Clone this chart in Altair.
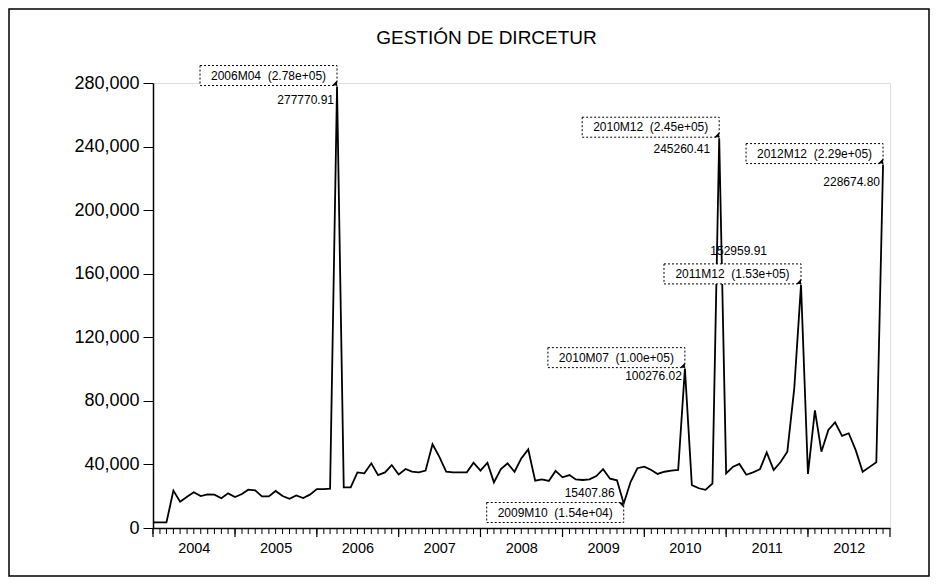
import altair as alt
import pandas as pd

# ---------------- data ----------------
start_month = "2004-01-01"
values = [
    # 2004
    3500, 3500, 3500, 23500, 16600, 19700, 22500, 20100, 21200, 21000, 18700, 21800,
    # 2005
    19500, 21400, 24100, 23700, 19900, 19900, 23300, 20100, 18400, 20500, 18800, 21000,
    # 2006
    24500, 24500, 24800, 277770.91, 25600, 25600, 35000, 34400, 40700, 33300, 35000, 39600,
    # 2007
    33700, 37100, 35500, 35000, 36100, 52700, 44900, 35500, 35000, 35000, 35000, 41100,
    # 2008
    36100, 41100, 28700, 37100, 40700, 35400, 43800, 49500, 29800, 30600, 29600, 35900,
    # 2009
    31900, 33300, 30600, 30200, 30600, 32700, 37000, 31000, 30000, 15407.86, 29100, 37600,
    # 2010
    38600, 36500, 34000, 35400, 36100, 36500, 100276.02, 27000, 25000, 24000, 28000, 245260.41,
    # 2011
    34400, 38600, 40300, 33500, 35000, 37000, 47500, 36500, 41500, 48000, 88000, 152959.91,
    # 2012
    34000, 74000, 48000, 61700, 66500, 58000, 59600, 49000, 35400, 38300, 41300, 228674.80,
]
years = list(range(2004, 2013))
y_ticks = [0, 40000, 80000, 120000, 160000, 200000, 240000, 280000]
ann_periods = ["2006M04", "2010M12", "2012M12", "2011M12", "2010M07", "2009M10"]
title_text = "GESTIÓN DE DIRCETUR"

# ---------------- layout (positions / styles, not data) ----------------
W, H = 737, 445
FONT = "Liberation Sans"
ann_layout = {
    "2006M04": dict(box="above", vdx=-3, vdy=13),
    "2010M12": dict(box="above", vdx=-9, vdy=11),
    "2012M12": dict(box="above", vdx=-3, vdy=17),
    "2011M12": dict(box="above", vdx=-34, vdy=-34),
    "2010M07": dict(box="above", vdx=-3, vdy=7),
    "2009M10": dict(box="below", vdx=-9, vdy=-11),
}
BOX_W, BOX_H = 137, 20
NBSP = "\u00a0"

dates = pd.date_range(start_month, periods=len(values), freq="MS")
df = pd.DataFrame({"date": dates, "value": values})
df["period"] = [f"{d.year}M{d.month:02d}" for d in df["date"]]

x_scale = alt.Scale(domain=[alt.DateTime(year=years[0], month=1, date=1),
                            alt.DateTime(year=years[-1] + 1, month=1, date=1)])
y_scale = alt.Scale(domain=[y_ticks[0], y_ticks[-1]], nice=False)

X = alt.X("date:T", scale=x_scale,
          axis=alt.Axis(values=[alt.DateTime(year=y, month=7, date=1) for y in years],
                        format="%Y", ticks=False, title=None, grid=False,
                        labelFontSize=14.5, labelPadding=13, labelColor="black",
                        domainColor="black", domainWidth=1.5, labelFont=FONT))
Y = alt.Y("value:Q", scale=y_scale,
          axis=alt.Axis(values=y_ticks, format=",d", title=None, grid=False,
                        tickSize=10, tickColor="black", tickWidth=1,
                        labelFontSize=18, labelPadding=4, labelColor="black",
                        domainColor="black", domainWidth=1.5, labelFont=FONT))

base = alt.Chart(df)
line = base.mark_line(color="black", strokeWidth=1.8).encode(x=X, y=Y)

# month ticks & year ticks under the axis
month_ticks = base.mark_rule(color="black", strokeWidth=1).encode(
    x=alt.X("date:T", scale=x_scale), y=alt.value(H), y2=alt.value(H + 6))
year_df = pd.DataFrame({"date": pd.to_datetime([f"{y}-01-01" for y in years + [years[-1] + 1]])})
year_ticks = alt.Chart(year_df).mark_rule(color="black", strokeWidth=1.2).encode(
    x=alt.X("date:T", scale=x_scale), y=alt.value(H), y2=alt.value(H + 9))

layers = [line, month_ticks, year_ticks]

for p in ann_periods:
    row = df[df["period"] == p].copy()
    v = float(row["value"].iloc[0])
    row["label"] = f"{p}{NBSP}{NBSP}({v:.2e})"
    row["vtext"] = f"{v:.2f}"
    lay = ann_layout[p]
    c = alt.Chart(row)
    if lay["box"] == "above":
        top, bot = -1 - BOX_H, -1
        tri_shape = "M1,1L-1,1L1,-1Z"
        tri_dy = -3.5
    else:
        top, bot = -1, -1 + BOX_H
        tri_shape = "M1,-1L-1,-1L1,1Z"
        tri_dy = 1.5
    box = c.mark_rect(fill="white", stroke="black", strokeDash=[2, 2], strokeWidth=1,
                      xOffset=-BOX_W, x2Offset=0, yOffset=top, y2Offset=bot).encode(
        x=alt.X("date:T", scale=x_scale), x2=alt.X2("date"),
        y=alt.Y("value:Q", scale=y_scale), y2=alt.Y2("value"))
    lab = c.mark_text(fontSize=12, font=FONT, color="black", align="center", baseline="middle",
                      dx=-BOX_W / 2, dy=(top + bot) / 2).encode(
        x=alt.X("date:T", scale=x_scale), y=alt.Y("value:Q", scale=y_scale), text="label:N")
    tri = c.mark_point(shape=tri_shape, size=25, filled=True, color="black", opacity=1,
                       xOffset=-2.5, yOffset=tri_dy).encode(
        x=alt.X("date:T", scale=x_scale), y=alt.Y("value:Q", scale=y_scale))
    val = c.mark_text(fontSize=12, font=FONT, color="black", align="right", baseline="middle",
                      dx=lay["vdx"], dy=lay["vdy"]).encode(
        x=alt.X("date:T", scale=x_scale), y=alt.Y("value:Q", scale=y_scale), text="vtext:N")
    layers += [box, lab, tri, val]

one = pd.DataFrame({"title": [title_text]})
title = alt.Chart(one).mark_text(fontSize=19, font=FONT, color="black", align="center",
                                 baseline="middle").encode(
    x=alt.value(W / 2 - 35), y=alt.value(-45), text="title:N")
border = alt.Chart(one).mark_rect(fill=None, stroke="black", strokeWidth=1.5).encode(
    x=alt.value(-144), x2=alt.value(W + 39), y=alt.value(-74), y2=alt.value(H + 48))
layers += [title, border]

chart = alt.layer(*layers).properties(
    width=W, height=H,
    autosize=alt.AutoSizeParams(type="none"),
    padding={"left": 145, "top": 75, "right": 40, "bottom": 50},
).configure_view(stroke="black", strokeWidth=1.5).configure(font=FONT)

chart.save("out.html", embed_options={"renderer": "svg", "actions": False})
